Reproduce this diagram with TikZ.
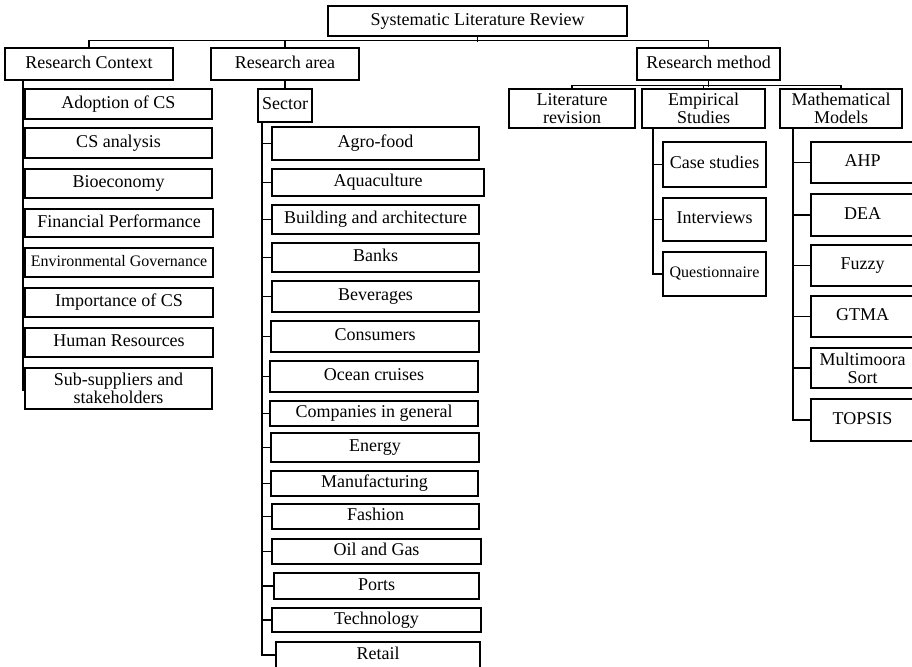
\documentclass[tikz,border=0pt]{standalone}
\usepackage{fontspec}
\setmainfont{Liberation Serif}
\begin{document}
\begin{tikzpicture}[x=1pt,y=-1pt,
  box/.style={draw, line width=1.2pt, inner sep=0pt, align=center,
    font=\fontsize{18}{18}\selectfont, text height=12.5pt, text depth=4pt},
  multi/.style={box, text height={}, text depth={}},
  small/.style={font=\fontsize{16}{16}\selectfont, text height=11pt, text depth=3.5pt},
  link/.style={line width=1.2pt},
  trunk/.style={line width=2pt}]
\useasboundingbox (0,0) rectangle (912,666);

% top level
\node[box, minimum width=299, minimum height=30] (slr) at (477.5,21) {Systematic Literature Review};
\node[box, minimum width=168, minimum height=32] (ctx) at (89,64) {Research Context};
\node[box, minimum width=148, minimum height=32] (area) at (285,64) {Research area};
\node[box, minimum width=143, minimum height=32] (meth) at (708.5,64) {Research method};

\draw[link] (slr.south) -- ++(0,5);
\draw[link] (ctx.north) -- ++(0,-7) -| (meth.north);
\draw[link] (area.north) -- ++(0,-7);

% research method branches
\node[multi, minimum width=126, minimum height=39] (lit) at (572,108.5) {Literature\\revision};
\node[multi, minimum width=123, minimum height=39] (emp) at (703.5,108.5) {Empirical\\Studies};
\node[multi, minimum width=122, minimum height=39] (math) at (841,108.5) {Mathematical\\Models};

\draw[link] (meth.south) -- ++(0,6);
\draw[link] (lit.north) -- ++(0,-3) -| (math.north);
\draw[link] (emp.north) -- ++(0,-3);

% research context items
\node[box, minimum width=187, minimum height=30] (c1) at (118.5,104) {Adoption of CS};
\node[box, minimum width=187, minimum height=30] (c2) at (118.5,143) {CS analysis};
\node[box, minimum width=187, minimum height=29] (c3) at (118.5,183.5) {Bioeconomy};
\node[box, minimum width=188, minimum height=28] (c4) at (119,223) {Financial Performance};
\node[box, small, minimum width=188, minimum height=29] (c5) at (119,262.5) {Environmental Governance};
\node[box, minimum width=188, minimum height=29] (c6) at (119,302.5) {Importance of CS};
\node[box, minimum width=188, minimum height=29] (c7) at (119,342.5) {Human Resources};
\node[multi, minimum width=187, minimum height=41] (c8) at (118.5,388.5) {Sub-suppliers and\\stakeholders};

\coordinate (ctop) at ([xshift=19pt]ctx.south west);
\draw[trunk] (ctop) -- (ctop |- c8.west) -- ++(0,2);

% sector
\node[box, minimum width=54, minimum height=33] (sector) at (285,105.5) {Sector};
\draw[link] (area.south) -- (sector.north);

\node[box, minimum width=207, minimum height=33] (s1) at (375.5,143.5) {Agro-food};
\node[box, minimum width=212, minimum height=27] (s2) at (378,182.5) {Aquaculture};
\node[box, minimum width=207, minimum height=29] (s3) at (375.5,219.5) {Building and architecture};
\node[box, minimum width=207, minimum height=29] (s4) at (375.5,257.5) {Banks};
\node[box, minimum width=207, minimum height=31] (s5) at (375.5,296.5) {Beverages};
\node[box, minimum width=208, minimum height=31] (s6) at (375,336.5) {Consumers};
\node[box, minimum width=208, minimum height=31] (s7) at (374,376.5) {Ocean cruises};
\node[box, minimum width=208, minimum height=25] (s8) at (374,413.5) {Companies in general};
\node[box, minimum width=208, minimum height=29] (s9) at (375,447.5) {Energy};
\node[box, minimum width=207, minimum height=25] (s10) at (374.5,483.5) {Manufacturing};
\node[box, minimum width=207, minimum height=25] (s11) at (375.5,516.5) {Fashion};
\node[box, minimum width=209, minimum height=25] (s12) at (376.5,551.5) {Oil and Gas};
\node[box, minimum width=205, minimum height=26] (s13) at (376.5,586) {Ports};
\node[box, minimum width=209, minimum height=24] (s14) at (376.5,620) {Technology};
\node[box, minimum width=204, minimum height=26] (s15) at (378,655) {Retail};

\coordinate (stop) at ([xshift=5pt]sector.south west);
\draw[trunk] (stop) |- (s15.west);
\foreach \s in {s1,s2,s3,s4,s5,s6,s7,s8,s9,s10,s11,s12,s13,s14}
  \draw[link] (\s.west -| stop) -- (\s.west);

% empirical studies
\node[box, minimum width=103, minimum height=45] (e1) at (714.5,164.5) {Case studies};
\node[box, minimum width=103, minimum height=43] (e2) at (714.5,219.5) {Interviews};
\node[box, small, minimum width=103, minimum height=44] (e3) at (714.5,274) {Questionnaire};

\coordinate (etop) at ([xshift=12pt]emp.south west);
\draw[trunk] (etop) |- (e3.west);
\foreach \s in {e1,e2}
  \draw[link] (\s.west -| etop) -- (\s.west);

% mathematical models
\node[box, minimum width=103, minimum height=41] (m1) at (862.5,162.5) {AHP};
\node[box, minimum width=103, minimum height=42] (m2) at (862.5,215) {DEA};
\node[box, minimum width=103, minimum height=41] (m3) at (862.5,265.5) {Fuzzy};
\node[box, minimum width=103, minimum height=41] (m4) at (862.5,316.5) {GTMA};
\node[multi, minimum width=103, minimum height=40] (m5) at (862.5,368) {Multimoora\\Sort};
\node[box, minimum width=103, minimum height=42] (m6) at (862.5,420) {TOPSIS};

\coordinate (mtop) at ([xshift=14pt]math.south west);
\draw[trunk] (mtop) |- (m6.west);
\foreach \s in {m1,m2,m3,m4,m5}
  \draw[link] (\s.west -| mtop) -- (\s.west);
\end{tikzpicture}
\end{document}
